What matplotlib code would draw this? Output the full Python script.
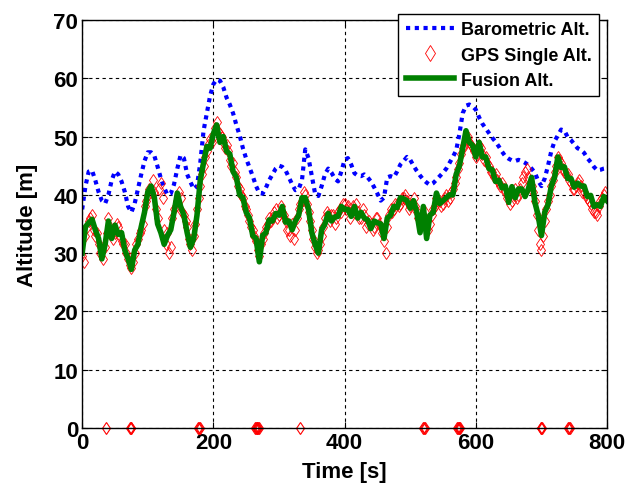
import matplotlib
matplotlib.use("Agg")
import matplotlib.pyplot as plt
import numpy as np

plt.rcParams['font.family'] = ['Liberation Sans', 'DejaVu Sans']
plt.rcParams['font.weight'] = 'bold'

# barometric altitude, every 5 s from 0 to 800 s
baro_t = np.arange(0, 801, 5)
baro_alt = [37.5, 41.5, 44.0, 44.2, 42.5, 40.5, 39.0, 38.5, 40.0, 42.5,
            44.0, 43.5, 42.3, 40.5, 38.0, 37.0, 38.5, 41.0, 43.5, 45.8,
            47.3, 47.3, 46.7, 44.8, 42.8, 41.2, 40.0, 40.2, 41.8, 44.5,
            46.8, 46.3, 43.5, 42.2, 41.0, 41.5, 45.5, 51.0, 54.0, 57.0,
            59.0, 59.8, 59.6, 58.5, 56.7, 55.5, 54.0, 52.0, 50.2, 48.0,
            46.2, 44.7, 43.2, 41.5, 40.3, 40.2, 41.2, 42.5, 43.5, 44.5,
            45.0, 44.8, 44.2, 43.0, 41.8, 40.8, 41.0, 42.5, 47.8, 46.3,
            43.2, 40.2, 39.8, 41.5, 43.5, 44.5, 43.8, 42.8, 42.3, 44.0,
            46.0, 46.3, 45.2, 43.7, 43.3, 43.2, 43.5, 43.0, 42.3, 41.3,
            40.2, 39.0, 39.5, 43.0, 43.2, 43.0, 44.0, 45.2, 45.8, 46.5,
            46.0, 45.0, 44.1, 43.3, 42.6, 42.1, 41.7, 42.0, 42.6, 43.2,
            43.8, 44.5, 45.5, 46.5, 47.6, 50.5, 54.0, 55.3, 55.5, 55.2,
            54.6, 53.3, 52.2, 51.4, 50.6, 49.8, 49.1, 48.3, 47.4, 46.6,
            46.2, 45.9, 45.8, 46.0, 45.8, 45.5, 45.1, 44.5, 43.8, 42.4,
            41.5, 42.8, 45.0, 47.5, 49.2, 50.2, 51.2, 51.0, 49.9, 49.4,
            48.7, 48.0, 47.7, 47.2, 46.3, 45.6, 44.8, 44.2, 44.3, 44.5,
            44.6]

# GPS single altitude, every 2.5 s
gps_t = np.arange(0, 800, 2.5)
gps_alt = [29.5, 28.5, 33.0, 34.5, 35.5, 36.0, 36.5, 34.0, 33.0, 33.5,
           31.5, 30.0, 30.5, 29.0, 31.0, 33.5, 36.0, 34.5, 33.5, 32.5,
           33.5, 35.0, 34.5, 33.0, 32.0, 31.5, 31.5, 30.0, 29.0, 28.0,
           27.5, 28.5, 30.0, 31.5, 32.5, 33.5, 34.0, 35.0, 38.0, 39.0,
           40.0, 41.0, 40.5, 42.5, 40.5, 37.5, 36.0, 41.0, 42.0, 39.5,
           34.0, 31.5, 33.5, 30.0, 31.0, 36.0, 37.5, 38.0, 39.0, 40.5,
           39.5, 37.0, 36.5, 35.5, 34.5, 32.5, 31.5, 30.5, 33.0, 35.0,
           37.5, 39.5, 41.5, 43.5, 45.0, 46.5, 47.5, 48.5, 49.5, 49.0,
           50.0, 51.5, 52.5, 51.0, 50.5, 50.0, 49.0, 48.0, 48.5, 47.5,
           46.0, 45.0, 45.5, 44.0, 43.0, 41.5, 41.0, 40.0, 39.5, 38.0,
           37.5, 36.5, 35.5, 34.5, 34.0, 33.0, 32.0, 30.5, 29.5, 31.5,
           32.5, 33.5, 34.5, 35.0, 36.0, 35.5, 36.0, 37.0, 37.5, 36.0,
           36.5, 38.0, 37.0, 36.5, 35.5, 34.0, 34.0, 33.0, 35.0, 32.5,
           34.0, 36.0, 37.5, 38.5, 39.0, 40.5, 40.0, 38.5, 37.0, 35.5,
           34.0, 32.5, 31.0, 30.0, 30.5, 31.5, 33.0, 34.5, 36.0, 37.0,
           36.5, 35.5, 36.5, 36.5, 35.0, 36.0, 37.0, 37.5, 37.0, 38.5,
           38.5, 37.5, 38.0, 36.0, 37.0, 38.0, 37.0, 38.5, 37.0, 36.0,
           36.0, 37.5, 36.5, 34.5, 35.0, 35.5, 35.0, 34.0, 34.5, 36.0,
           36.0, 35.0, 34.5, 33.5, 32.0, 30.0, 34.5, 36.5, 37.5, 37.0,
           37.5, 38.5, 38.5, 38.0, 38.5, 39.5, 39.5, 40.0, 39.0, 37.5,
           38.0, 38.5, 39.5, 38.0, 37.0, 36.0, 36.0, 35.0, 36.5, 37.0,
           35.5, 34.0, 35.0, 36.5, 37.5, 38.0, 39.5, 39.0, 39.0, 38.0,
           38.5, 39.5, 40.0, 39.0, 39.5, 40.5, 41.0, 42.0, 43.0, 44.5,
           45.5, 47.0, 48.0, 48.5, 49.5, 50.0, 49.0, 48.5, 48.0, 47.5,
           46.5, 47.0, 48.5, 48.0, 47.0, 46.0, 46.5, 45.5, 45.0, 44.0,
           44.0, 43.0, 43.5, 42.5, 42.0, 41.5, 42.0, 41.0, 40.5, 39.5,
           40.0, 38.5, 39.0, 40.0, 41.0, 39.5, 40.0, 41.0, 42.0, 43.0,
           44.0, 44.5, 43.0, 42.0, 41.5, 40.5, 39.0, 36.5, 34.0, 31.5,
           30.5, 33.0, 35.5, 37.5, 39.0, 40.0, 41.5, 42.5, 44.0, 45.0,
           46.5, 46.0, 45.5, 44.5, 44.0, 43.5, 43.5, 42.5, 42.0, 41.0,
           41.0, 41.5, 42.0, 42.5, 41.5, 40.5, 40.5, 40.0, 39.5, 39.0,
           38.5, 37.5, 37.0, 37.0, 36.5, 38.0, 39.0, 39.5, 40.0, 40.5]

# GPS dropouts (altitude reported as 0)
drop_t = [37, 73, 74, 75, 177, 178, 179, 264, 265, 266, 267, 268, 269, 332,
          520, 521, 522, 572, 573, 574, 575, 576, 699, 700, 701, 741, 742, 743]
drop_alt = [0] * len(drop_t)

# fused altitude, every 5 s
fus_t = np.arange(0, 801, 5)
fus_alt = [30.0, 34.5, 35.2, 35.8, 34.0, 32.5, 29.0, 31.5, 35.5, 32.5,
           34.8, 33.2, 33.5, 30.5, 29.0, 27.2, 30.5, 31.5, 34.5, 37.0,
           40.5, 41.5, 39.5, 35.0, 33.5, 31.5, 33.0, 34.0, 37.0, 40.3,
           38.0, 36.5, 33.5, 31.0, 32.5, 36.5, 42.5, 45.5, 48.3, 48.0,
           50.5, 52.0, 49.0, 50.0, 47.5, 47.0, 44.0, 43.0, 40.0, 39.5,
           37.0, 36.0, 33.0, 32.5, 28.5, 33.0, 33.5, 35.7, 35.5, 36.8,
           36.5, 38.0, 35.3, 35.5, 34.0, 35.5, 36.5, 39.5, 39.5, 37.5,
           33.5, 31.5, 30.0, 34.0, 35.0, 36.8, 35.5, 36.2, 36.3, 38.0,
           37.5, 37.5, 36.3, 38.0, 36.0, 37.0, 36.0, 35.7, 34.2, 35.5,
           35.2, 35.0, 32.5, 36.0, 36.5, 38.0, 37.8, 39.5, 39.3, 39.0,
           37.7, 39.0, 37.0, 33.5, 38.0, 32.5, 36.5, 37.0, 40.3, 38.5,
           39.0, 39.5, 40.0, 40.0, 43.5, 45.0, 48.0, 51.0, 49.0, 48.5,
           46.5, 49.0, 46.5, 46.5, 44.5, 44.3, 42.3, 42.5, 41.2, 41.5,
           38.7, 41.4, 39.5, 41.0, 41.0, 39.7, 41.0, 43.0, 38.7, 36.5,
           33.0, 37.0, 38.3, 41.5, 43.0, 46.5, 44.7, 44.8, 42.8, 42.8,
           41.3, 42.0, 41.5, 41.5, 39.7, 39.9, 38.0, 38.3, 38.0, 39.7,
           39.0]

fig = plt.figure(figsize=(6.37, 4.89), dpi=100)
ax = fig.add_axes([0.129, 0.123, 0.824, 0.834])

ax.plot(baro_t, baro_alt, color='blue', lw=3, linestyle=(0, (1, 1.1)),
        dash_capstyle='butt', label='Barometric Alt.')
ax.plot(gps_t, gps_alt, linestyle='none', marker='d', ms=6, mfc='none',
        mec='red', mew=0.6, label='GPS Single Alt.')
ax.plot(drop_t, drop_alt, linestyle='none', marker='d', ms=6.5, mfc='none',
        mec='red', mew=0.8, clip_on=False)
ax.plot(fus_t, fus_alt, color='green', lw=4, label='Fusion Alt.')

ax.set_xlim(0, 800)
ax.set_ylim(0, 70)
ax.set_xticks([0, 200, 400, 600, 800])
ax.set_yticks(range(0, 71, 10))
ax.grid(True, color='black', linestyle=(0, (3, 3)), lw=0.8)
ax.tick_params(direction='in', length=4, top=True, right=True, labelsize=16, pad=3)
for s in ax.spines.values():
    s.set_linewidth(1.0)

ax.set_xlabel('Time [s]', fontsize=16, fontweight='bold', labelpad=6)
ax.set_ylabel('Altitude [m]', fontsize=16, fontweight='bold', labelpad=11)

leg = ax.legend(loc='upper right', bbox_to_anchor=(0.940, 0.969),
                bbox_transform=fig.transFigure, fontsize=13, fancybox=False,
                framealpha=1, edgecolor='black', handlelength=2.7,
                borderaxespad=0, borderpad=0.4, labelspacing=0.45,
                handletextpad=0.35)
leg.get_frame().set_linewidth(1.0)
leg.legend_handles[1].set_markersize(8)

plt.savefig('out.png', dpi=100)
